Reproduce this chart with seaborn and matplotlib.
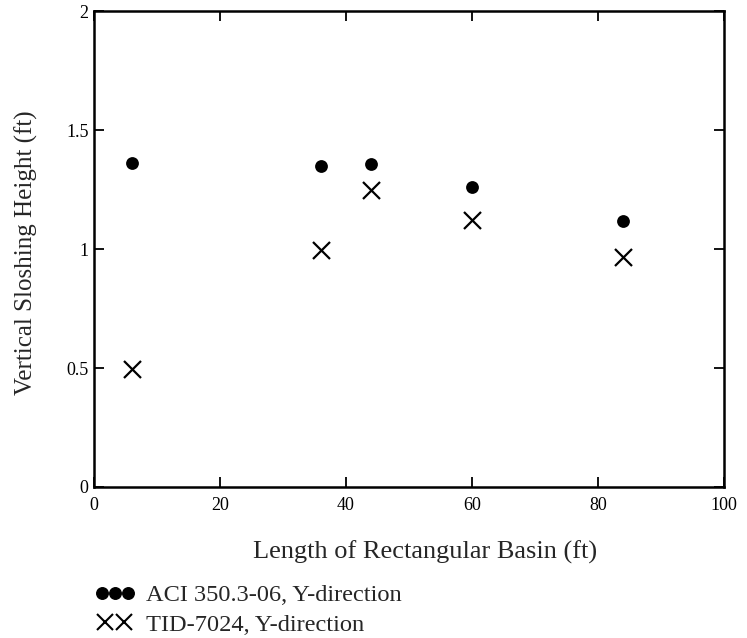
import matplotlib
matplotlib.use("Agg")
import matplotlib.pyplot as plt
import seaborn as sns
from matplotlib.lines import Line2D
from matplotlib.legend_handler import HandlerTuple

# veri
basin_length = [6, 36, 44, 60, 84]
aci_height = [1.363, 1.352, 1.357, 1.262, 1.12]
tid_height = [0.497, 0.995, 1.25, 1.121, 0.967]
aci_label = "ACI 350.3-06, Y-direction"
tid_label = "TID-7024, Y-direction"

sns.set_style("ticks")
plt.rcParams["font.family"] = ["Liberation Serif", "DejaVu Sans"]

fig = plt.figure(figsize=(7.47, 6.38), dpi=100)
ax = fig.add_axes([0.1258, 0.2367, 0.8434, 0.7453])

# dolu ve cizgi isaretleri karistirilamaz, iki ayri cagri
sns.scatterplot(x=basin_length, y=aci_height, marker="o", color="black",
                s=85, edgecolor="black", linewidth=0, ax=ax)
sns.scatterplot(x=basin_length, y=tid_height, marker="x", color="black",
                s=150, linewidth=1.6, ax=ax)

ax.set_xlim(0, 100)
ax.set_ylim(0, 2)
ax.set_xticks([0, 20, 40, 60, 80, 100])
ax.set_yticks([0, 0.5, 1, 1.5, 2])
ax.set_yticklabels(["0", "0.5", "1", "1.5", "2"])
ax.tick_params(direction="in", length=7, width=1.3, labelsize=13,
               top=True, right=True, color="black", labelcolor="black")
ax.tick_params(axis="x", pad=7)
ax.tick_params(axis="y", pad=4)
for sp in ax.spines.values():
    sp.set_linewidth(1.8)
    sp.set_color("black")

ax.set_xlabel("Length of Rectangular Basin (ft)", fontsize=19)
ax.set_ylabel("Vertical Sloshing Height (ft)", fontsize=18)
ax.xaxis.set_label_coords(0.525, -0.113)
ax.yaxis.set_label_coords(-0.089, 0.492)

dot = Line2D([], [], marker="o", color="black", linestyle="none", markersize=8.3)
cross = Line2D([], [], marker="x", color="black", linestyle="none", markersize=11.5,
               markeredgewidth=1.5)
fig.legend([(dot, dot, dot), (cross, cross)], [aci_label, tid_label],
           handler_map={tuple: HandlerTuple(ndivide=None, pad=0)},
           loc="upper left", bbox_to_anchor=(95 / 747, 1 - 584 / 638),
           frameon=False, fontsize=17.6, handlelength=1.6, handletextpad=0.5,
           labelspacing=0.3, borderpad=0, borderaxespad=0)

fig.savefig("out.png", dpi=100)
